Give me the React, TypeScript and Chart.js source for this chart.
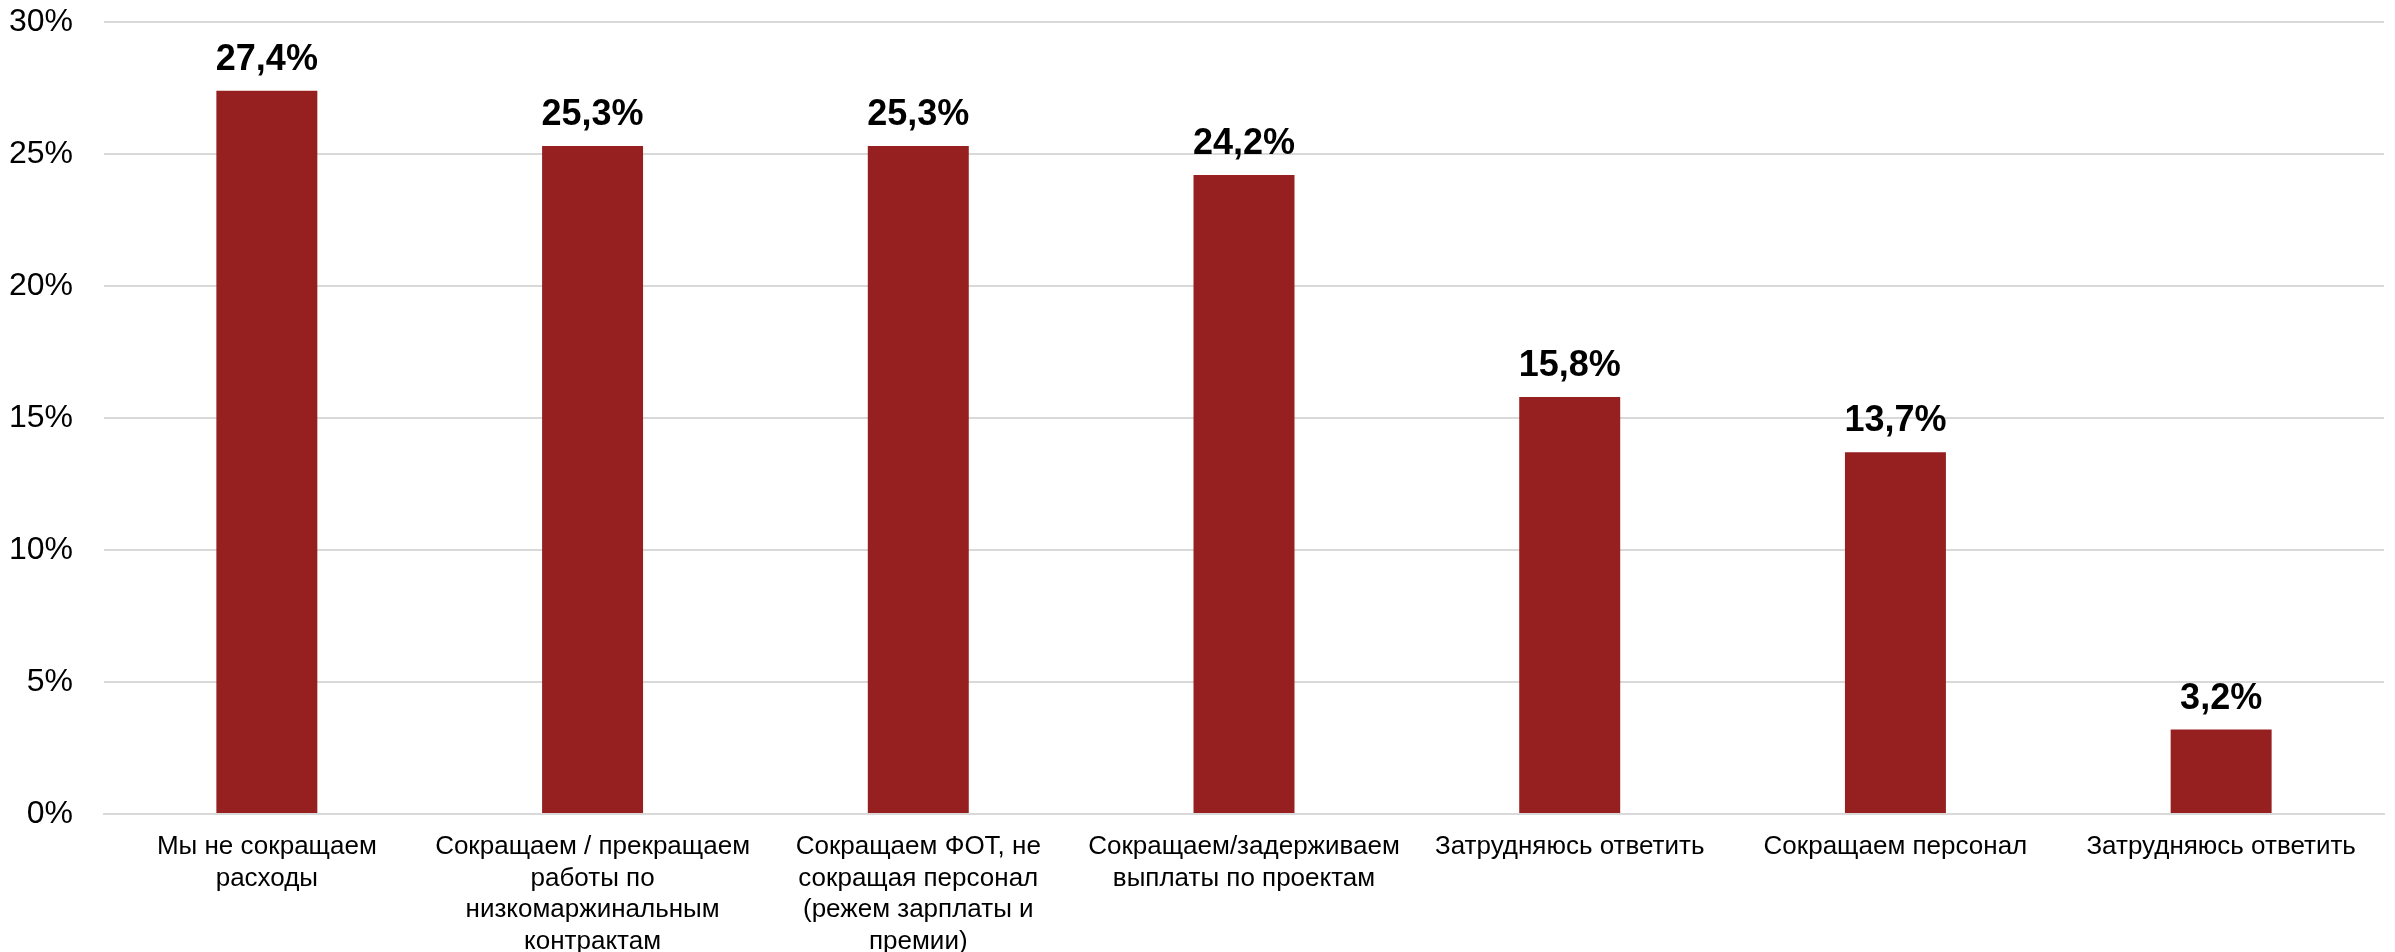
import React, { useEffect, useRef } from "react";
import { Chart, registerables } from "chart.js";

Chart.register(...registerables);

const categories: (string | string[])[] = [
  ["Мы не сокращаем", "расходы"],
  ["Сокращаем / прекращаем", "работы по", "низкомаржинальным", "контрактам"],
  ["Сокращаем ФОТ, не", "сокращая персонал", "(режем зарплаты и", "премии)"],
  ["Сокращаем/задерживаем", "выплаты по проектам"],
  "Затрудняюсь ответить",
  "Сокращаем персонал",
  "Затрудняюсь ответить",
];

const values: number[] = [27.4, 25.3, 25.3, 24.2, 15.8, 13.7, 3.2];

const yTicks: number[] = [0, 5, 10, 15, 20, 25, 30];

const FONT = "'Liberation Sans', Arial, Helvetica, sans-serif";
const BAR_COLOR = "#96201F";

const valueLabels = {
  id: "valueLabels",
  afterDatasetsDraw(chart: any) {
    const ctx = chart.ctx;
    const meta = chart.getDatasetMeta(0);
    ctx.save();
    ctx.font = `bold 36px ${FONT}`;
    ctx.fillStyle = "#000000";
    ctx.textAlign = "center";
    ctx.textBaseline = "alphabetic";
    meta.data.forEach((bar: any, i: number) => {
      const txt = values[i].toFixed(1).replace(".", ",") + "%";
      ctx.fillText(txt, bar.x, bar.y - 21);
    });
    ctx.restore();
  },
};

export default function App() {
  const canvasRef = useRef<HTMLCanvasElement | null>(null);

  useEffect(() => {
    document.body.style.margin = "0";
    const canvas = canvasRef.current;
    if (!canvas) return;
    const chart = new Chart(canvas, {
      type: "bar",
      data: {
        labels: categories,
        datasets: [
          {
            data: values,
            backgroundColor: BAR_COLOR,
            borderWidth: 0,
            categoryPercentage: 1,
            barPercentage: 0.31,
          },
        ],
      },
      options: {
        animation: false,
        responsive: false,
        maintainAspectRatio: false,
        devicePixelRatio: 1,
        layout: { padding: { top: 22, right: 11, left: 0, bottom: 0 } },
        plugins: {
          legend: { display: false },
          tooltip: { enabled: false },
        },
        scales: {
          x: {
            grid: { display: false, drawTicks: false },
            border: { display: true, color: "#d9d9d9", width: 2 },
            ticks: {
              color: "#000000",
              font: { family: FONT, size: 26, lineHeight: 1.22 },
              padding: 17,
              maxRotation: 0,
              minRotation: 0,
              autoSkip: false,
            },
            afterFit: (scale: any) => {
              scale.height = 138;
              scale.paddingLeft = 0;
              scale.paddingRight = 0;
            },
          },
          y: {
            min: 0,
            max: 30,
            afterBuildTicks: (scale: any) => {
              scale.ticks = yTicks.map((v) => ({ value: v }));
            },
            grid: { color: "#d9d9d9", lineWidth: 2, drawTicks: false },
            border: { display: false },
            ticks: {
              color: "#000000",
              font: { family: FONT, size: 32 },
              padding: 31,
              callback: (v: any) => `${v}%`,
            },
            afterFit: (scale: any) => {
              scale.width = 104;
              scale.paddingTop = 0;
              scale.paddingBottom = 0;
            },
          },
        },
      },
      plugins: [valueLabels],
    });
    return () => chart.destroy();
  }, []);

  return (
    <div style={{ width: 2395, height: 952, background: "#ffffff" }}>
      <canvas ref={canvasRef} width={2395} height={952} style={{ display: "block" }} />
    </div>
  );
}
